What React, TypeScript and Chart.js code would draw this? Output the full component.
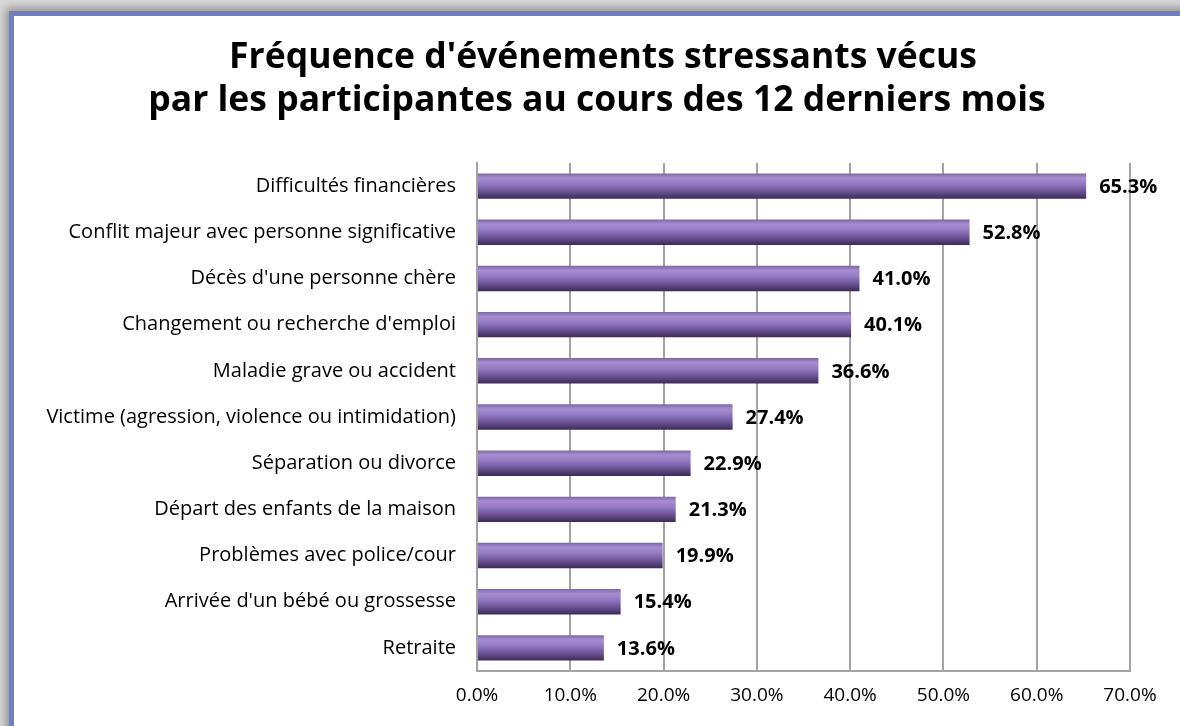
import React, { useEffect, useRef } from "react";
import { Chart, registerables } from "chart.js";

Chart.register(...registerables);

const titleLines = [
  "Fréquence d'événements stressants vécus",
  "par les participantes au cours des 12 derniers mois",
];

const categories = [
  "Difficultés financières",
  "Conflit majeur avec personne significative",
  "Décès d'une personne chère",
  "Changement ou recherche d'emploi",
  "Maladie grave ou accident",
  "Victime (agression, violence ou intimidation)",
  "Séparation ou divorce",
  "Départ des enfants de la maison",
  "Problèmes avec police/cour",
  "Arrivée d'un bébé ou grossesse",
  "Retraite",
];

const values = [65.3, 52.8, 41.0, 40.1, 36.6, 27.4, 22.9, 21.3, 19.9, 15.4, 13.6];

const xMin = 0;
const xMax = 70;
const xStep = 10;

const FONT = "'Open Sans', 'Noto Sans', sans-serif";

const gradientPlugin = {
  id: "barGradient",
  beforeDatasetsDraw(chart: any) {
    const ctx = chart.ctx;
    chart.getSortedVisibleDatasetMetas().forEach((meta: any) => {
      meta.data.forEach((el: any) => {
        const top = el.y - el.height / 2;
        const bottom = el.y + el.height / 2;
        const g = ctx.createLinearGradient(0, top, 0, bottom);
        g.addColorStop(0, "#7d65aa");
        g.addColorStop(0.18, "#a78ed1");
        g.addColorStop(0.42, "#9379c2");
        g.addColorStop(0.7, "#6d5497");
        g.addColorStop(1, "#3a2b52");
        el.options.backgroundColor = g;
      });
    });
  },
};

const labelPlugin = {
  id: "valueLabels",
  afterDatasetsDraw(chart: any) {
    const ctx = chart.ctx;
    ctx.save();
    ctx.font = `bold 20px ${FONT}`;
    ctx.fillStyle = "#000";
    ctx.textAlign = "left";
    ctx.textBaseline = "middle";
    chart.getSortedVisibleDatasetMetas().forEach((meta: any) => {
      meta.data.forEach((el: any, i: number) => {
        const v = chart.data.datasets[meta.index].data[i] as number;
        ctx.fillText(v.toFixed(1) + "%", el.x + 13, el.y + 1);
      });
    });
    ctx.restore();
  },
};

const titlePlugin = {
  id: "customTitle",
  afterDraw(chart: any) {
    const ctx = chart.ctx;
    ctx.save();
    ctx.font = `bold 35.5px ${FONT}`;
    ctx.fillStyle = "#000";
    ctx.textAlign = "center";
    ctx.textBaseline = "middle";
    ctx.fillText(titleLines[0], 603, 58);
    ctx.fillText(titleLines[1], 597, 101);
    ctx.restore();
  },
};

export default function App() {
  const ref = useRef<HTMLCanvasElement | null>(null);

  useEffect(() => {
    if (!ref.current) return;
    const chart = new Chart(ref.current, {
      type: "bar",
      data: {
        labels: categories,
        datasets: [
          {
            data: values,
            backgroundColor: () => "#8a6fb8",
            borderWidth: 0,
            barPercentage: 0.55,
            categoryPercentage: 1,
          },
        ],
      },
      options: {
        indexAxis: "y",
        animation: false,
        responsive: false,
        maintainAspectRatio: false,
        layout: { padding: { top: 163, right: 50, left: 0, bottom: 0 } },
        plugins: {
          legend: { display: false },
          title: { display: false },
          tooltip: { enabled: false },
        },
        scales: {
          x: {
            min: xMin,
            max: xMax,
            ticks: {
              stepSize: xStep,
              padding: 13,
              color: "#000",
              font: { family: FONT, size: 19 },
              callback: (v: any) => Number(v).toFixed(1) + "%",
            },
            grid: { color: "#a3a3a3", lineWidth: 2, drawTicks: false },
            border: { color: "#a3a3a3", width: 2 },
            afterFit: (s: any) => {
              s.height = 55;
            },
          },
          y: {
            ticks: {
              padding: 21,
              color: "#000",
              font: { family: FONT, size: 20 },
            },
            grid: { display: false, drawTicks: false },
            border: { color: "#a3a3a3", width: 2 },
            afterFit: (s: any) => {
              s.width = 477;
            },
          },
        },
      },
      plugins: [gradientPlugin, labelPlugin, titlePlugin],
    });
    return () => chart.destroy();
  }, []);

  return (
    <div
      style={{
        position: "fixed",
        left: 0,
        top: 0,
        width: 1180,
        height: 726,
        overflow: "hidden",
        background: "#d9d9d9",
      }}
    >
      <div
        style={{
          position: "absolute",
          left: 9,
          top: 11,
          width: 1220,
          height: 760,
          background: "#fff",
          border: "5px solid #6d7fbf",
          boxShadow: "0 0 9px 3px rgba(0,0,0,0.35)",
        }}
      />
      <canvas
        ref={ref}
        width={1180}
        height={726}
        style={{ position: "absolute", left: 0, top: 0, width: 1180, height: 726 }}
      />
    </div>
  );
}
